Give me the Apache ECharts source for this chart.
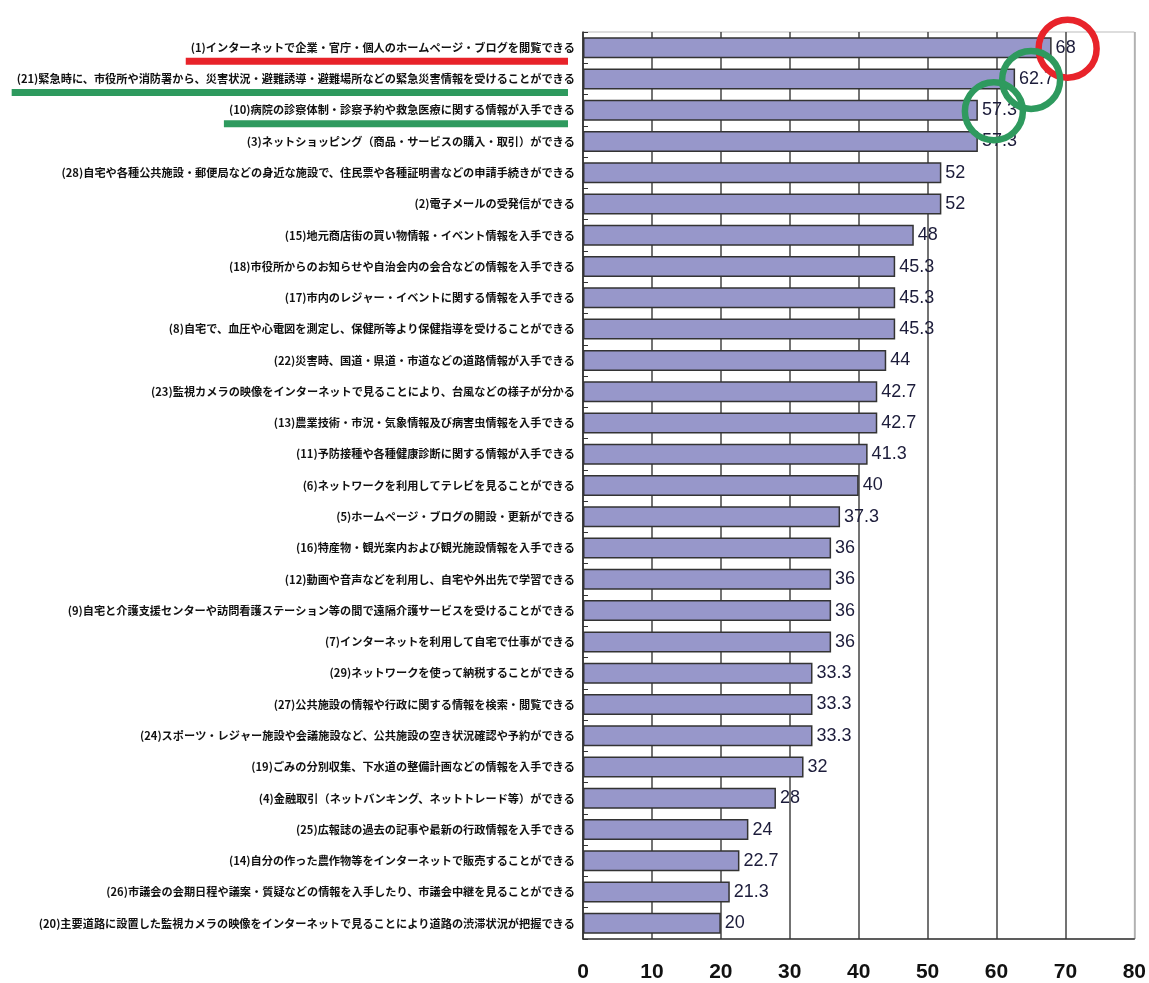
<!DOCTYPE html>
<html>
<head>
<meta charset="utf-8">
<script src="https://cdn.jsdelivr.net/npm/echarts@6/dist/echarts.min.js"></script>
<style>
html,body{margin:0;padding:0;background:#fff;}
#chart{width:1149px;height:983px;}
</style>
</head>
<body>
<div id="chart"></div>
<script>
const categories = [
  "(1)インターネットで企業・官庁・個人のホームページ・ブログを閲覧できる",
  "(21)緊急時に、市役所や消防署から、災害状況・避難誘導・避難場所などの緊急災害情報を受けることができる",
  "(10)病院の診察体制・診察予約や救急医療に関する情報が入手できる",
  "(3)ネットショッピング（商品・サービスの購入・取引）ができる",
  "(28)自宅や各種公共施設・郵便局などの身近な施設で、住民票や各種証明書などの申請手続きができる",
  "(2)電子メールの受発信ができる",
  "(15)地元商店街の買い物情報・イベント情報を入手できる",
  "(18)市役所からのお知らせや自治会内の会合などの情報を入手できる",
  "(17)市内のレジャー・イベントに関する情報を入手できる",
  "(8)自宅で、血圧や心電図を測定し、保健所等より保健指導を受けることができる",
  "(22)災害時、国道・県道・市道などの道路情報が入手できる",
  "(23)監視カメラの映像をインターネットで見ることにより、台風などの様子が分かる",
  "(13)農業技術・市況・気象情報及び病害虫情報を入手できる",
  "(11)予防接種や各種健康診断に関する情報が入手できる",
  "(6)ネットワークを利用してテレビを見ることができる",
  "(5)ホームページ・ブログの開設・更新ができる",
  "(16)特産物・観光案内および観光施設情報を入手できる",
  "(12)動画や音声などを利用し、自宅や外出先で学習できる",
  "(9)自宅と介護支援センターや訪問看護ステーション等の間で遠隔介護サービスを受けることができる",
  "(7)インターネットを利用して自宅で仕事ができる",
  "(29)ネットワークを使って納税することができる",
  "(27)公共施設の情報や行政に関する情報を検索・閲覧できる",
  "(24)スポーツ・レジャー施設や会議施設など、公共施設の空き状況確認や予約ができる",
  "(19)ごみの分別収集、下水道の整備計画などの情報を入手できる",
  "(4)金融取引（ネットバンキング、ネットトレード等）ができる",
  "(25)広報誌の過去の記事や最新の行政情報を入手できる",
  "(14)自分の作った農作物等をインターネットで販売することができる",
  "(26)市議会の会期日程や議案・質疑などの情報を入手したり、市議会中継を見ることができる",
  "(20)主要道路に設置した監視カメラの映像をインターネットで見ることにより道路の渋滞状況が把握できる"
];
const values = [68, 62.7, 57.3, 57.3, 52, 52, 48, 45.3, 45.3, 45.3, 44, 42.7, 42.7, 41.3, 40, 37.3, 36, 36, 36, 36, 33.3, 33.3, 33.3, 32, 28, 24, 22.7, 21.3, 20];
const xTicks = [0, 10, 20, 30, 40, 50, 60, 70, 80];
const highlightRed = [0];
const highlightGreen = [1, 2];

const catFontSize = 11.2;
const catFont = "bold " + catFontSize + "px 'Noto Sans CJK JP'";
const numFont = "'Liberation Sans', Arial, sans-serif";
const chart = echarts.init(document.getElementById('chart'));
const option = {
  backgroundColor: '#fff',
  animation: false,
  grid: {left: 583, right: 11, top: 32, bottom: 43, show: true, borderColor: '#bbb', borderWidth: 1},
  xAxis: {
    type: 'value', min: xTicks[0], max: xTicks[xTicks.length - 1], interval: 10,
    axisLine: {show: true, lineStyle: {color: '#333', width: 1.5}},
    axisTick: {show: false},
    splitLine: {show: true, lineStyle: {color: ['#444', '#444', '#444', '#444', '#444', '#444', '#444', '#444', '#aaa'], width: 1.5}},
    axisLabel: {margin: 23, fontSize: 21, fontWeight: 'bold', color: '#111', fontFamily: numFont}
  },
  yAxis: {
    type: 'category', data: categories, inverse: true,
    axisLine: {show: true, lineStyle: {color: '#333', width: 1.5}},
    axisTick: {show: true, inside: true, length: 5, lineStyle: {color: '#333'}},
    axisLabel: {margin: 8, fontSize: catFontSize, fontWeight: 'bold', color: '#111',
      fontFamily: "'Noto Sans CJK JP', sans-serif"}
  },
  series: [{
    type: 'bar', data: values, barWidth: 21, z: 3,
    itemStyle: {color: '#9797ca', borderColor: '#333', borderWidth: 1.5},
    label: {show: true, position: 'right', distance: 4, fontSize: 18, color: '#1c1c3a', fontFamily: numFont}
  }]
};
chart.setOption(option);

// annotations placed through the axis scales
const ctx = document.createElement('canvas').getContext('2d');
ctx.font = catFont;
const graphics = [];
function addMarks(idx, color) {
  const p = chart.convertToPixel({gridIndex: 0}, [values[idx], idx]);
  const axisX = chart.convertToPixel({gridIndex: 0}, [0, idx])[0];
  graphics.push({type: 'circle', shape: {cx: p[0] + 16, cy: p[1] + 1, r: 29},
    style: {fill: 'none', stroke: color, lineWidth: 6.5}, z: 100});
  const w = ctx.measureText(categories[idx]).width;
  const right = axisX - 8;
  graphics.push({type: 'rect', shape: {x: right - w - 5, y: p[1] + 10, width: w - 2, height: 7},
    style: {fill: color}, z: 100});
}
highlightRed.forEach(i => addMarks(i, '#e8232a'));
highlightGreen.forEach(i => addMarks(i, '#2e9a5e'));
chart.setOption({graphic: graphics});
</script>
</body>
</html>
